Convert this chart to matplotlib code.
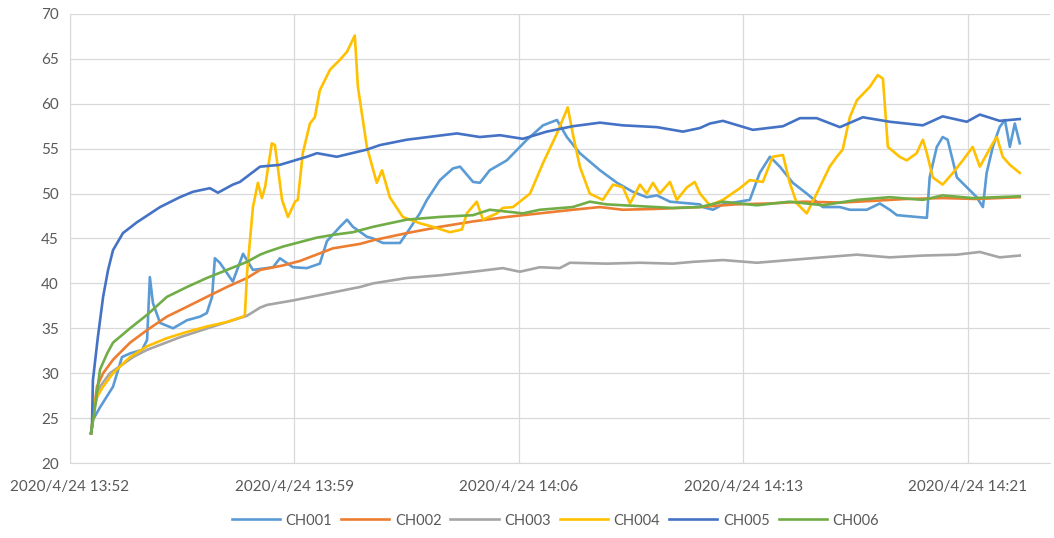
import matplotlib.pyplot as plt

# minutes after 13:52
t_ch001 = [0.68, 0.74, 0.97, 1.39, 1.68, 1.94, 2.33, 2.49, 2.58, 2.68, 2.91, 3.33, 3.78, 4.20, 4.42,
           4.59, 4.68, 4.84, 5.26, 5.59, 5.91, 6.56, 6.78, 7.20, 7.65, 8.07, 8.30, 8.72, 8.95, 9.14,
           9.59, 9.79, 10.11, 10.66, 10.88, 11.30, 11.53, 11.95, 12.37, 12.60, 13.02, 13.24, 13.56,
           14.11, 14.76, 15.28, 15.73, 16.05, 16.47, 17.12, 17.67, 18.18, 18.63, 18.96, 19.38, 20.02,
           20.35, 20.44, 20.77, 21.09, 21.96, 22.28, 22.61, 22.93, 23.35, 23.80, 24.32, 24.87, 25.19,
           25.74, 26.16, 26.48, 26.71, 27.35, 27.68, 27.77, 28.00, 28.19, 28.35, 28.65, 28.97, 29.29,
           29.49, 29.61, 29.81, 30.03, 30.20, 30.36, 30.52, 30.68]
v_ch001 = [23.3, 24.8, 26.2, 28.5, 31.8, 32.2, 32.6, 33.7, 40.7, 37.8, 35.6, 35.0, 35.9, 36.3, 36.7,
           38.5, 42.8, 42.3, 40.2, 43.3, 41.5, 41.8, 42.8, 41.8, 41.7, 42.2, 44.7, 46.3, 47.1, 46.3,
           45.2, 45.0, 44.5, 44.5, 45.6, 47.8, 49.3, 51.5, 52.8, 53.0, 51.3, 51.2, 52.6,
           53.7, 56.0, 57.6, 58.2, 56.3, 54.5, 52.6, 51.2, 50.2, 49.6, 49.8, 49.1, 48.9,
           48.8, 48.5, 48.2, 48.8, 49.3, 52.3, 54.1, 53.0, 51.2, 50.0, 48.5, 48.5, 48.2,
           48.2, 48.9, 48.2, 47.6, 47.4, 47.3, 51.8, 55.2, 56.3, 56.0, 51.8, 50.7, 49.6,
           48.5, 52.3, 55.2, 57.4, 58.2, 55.2, 57.8, 55.6]

t_ch002 = [0.68, 0.87, 1.07, 1.39, 1.94, 2.49, 3.13, 3.78, 4.42, 5.07, 5.72, 6.14, 6.88, 7.43, 8.49,
           9.37, 9.79, 10.88, 11.95, 13.02, 14.11, 15.18, 16.24, 17.12, 17.86, 18.96, 20.35, 21.50,
           22.60, 23.70, 24.90, 26.00, 27.00, 28.20, 29.30, 30.68]
v_ch002 = [23.3, 28.5, 30.0, 31.5, 33.4, 34.8, 36.3, 37.4, 38.5, 39.6, 40.6, 41.5, 42.0, 42.5, 43.9,
           44.4, 44.8, 45.6, 46.3, 46.9, 47.4, 47.8, 48.2, 48.5, 48.2, 48.3, 48.5, 48.8,
           48.9, 49.1, 49.0, 49.2, 49.4, 49.5, 49.4, 49.6]

t_ch003 = [0.68, 0.81, 0.97, 1.29, 2.04, 2.49, 3.55, 4.62, 5.72, 6.14, 6.36, 7.20, 8.07, 9.37, 9.79,
           10.88, 11.95, 13.02, 13.98, 14.53, 15.18, 15.82, 16.15, 17.34, 18.41, 19.47, 20.12, 21.09,
           22.19, 23.25, 24.32, 25.42, 26.48, 27.55, 28.65, 29.39, 30.03, 30.68]
v_ch003 = [23.3, 26.5, 28.5, 30.0, 31.8, 32.6, 34.0, 35.2, 36.4, 37.3, 37.6, 38.1, 38.7, 39.6, 40.0,
           40.6, 40.9, 41.3, 41.7, 41.3, 41.8, 41.7, 42.3, 42.2, 42.3, 42.2, 42.4, 42.6,
           42.3, 42.6, 42.9, 43.2, 42.9, 43.1, 43.2, 43.5, 42.9, 43.1]

t_ch004 = [0.68, 0.81, 1.07, 1.39, 1.94, 2.49, 3.13, 3.78, 4.42, 5.07, 5.59, 5.65, 5.72, 5.91, 6.07,
           6.20, 6.30, 6.52, 6.62, 6.85, 7.04, 7.27, 7.36, 7.52, 7.75, 7.91, 8.07, 8.40, 8.72, 8.95,
           9.20, 9.30, 9.59, 9.91, 10.08, 10.33, 10.75, 11.30, 11.72, 12.27, 12.66, 12.82, 13.14,
           13.34, 13.79, 13.98, 14.31, 14.86, 15.28, 15.73, 16.08, 16.24, 16.47, 16.79, 17.21, 17.54,
           17.86, 18.09, 18.41, 18.63, 18.83, 19.05, 19.38, 19.60, 19.93, 20.18, 20.35, 20.67, 21.09,
           21.64, 21.96, 22.38, 22.70, 23.03, 23.25, 23.48, 23.80, 24.12, 24.54, 24.77, 24.96, 25.19,
           25.42, 25.84, 26.09, 26.26, 26.42, 26.80, 27.03, 27.35, 27.55, 27.68, 27.87, 28.19, 28.52,
           28.84, 29.16, 29.39, 29.81, 29.94, 30.13, 30.36, 30.68]
v_ch004 = [23.3, 27.0, 28.5, 30.0, 31.8, 33.0, 33.9, 34.6, 35.2, 35.7, 36.3, 36.5, 41.2, 48.5, 51.2,
           49.5, 50.7, 55.6, 55.4, 49.3, 47.4, 49.1, 49.3, 54.5, 57.8, 58.5, 61.5, 63.8, 64.9, 65.8,
           67.6, 61.9, 55.2, 51.2, 52.6, 49.6, 47.4, 46.7, 46.3, 45.7, 46.0, 47.8, 49.1,
           47.1, 47.8, 48.4, 48.5, 50.0, 53.4, 56.7, 59.6, 56.7, 53.0, 50.0, 49.3, 51.0,
           50.7, 48.9, 51.0, 50.0, 51.2, 50.0, 51.3, 49.3, 50.7, 51.3, 50.0, 48.7, 49.3,
           50.6, 51.5, 51.3, 54.1, 54.3, 51.2, 48.9, 47.8, 50.0, 53.0, 54.1, 54.9, 58.5,
           60.4, 61.9, 63.2, 62.8, 55.2, 54.1, 53.7, 54.5, 56.0, 54.5, 51.8, 51.0, 52.3,
           53.7, 55.2, 53.0, 55.6, 56.3, 54.1, 53.2, 52.3]

t_ch005 = [0.68, 0.71, 0.74, 0.90, 1.07, 1.23, 1.39, 1.71, 2.16, 2.91, 3.55, 3.97, 4.52, 4.78, 5.26,
           5.49, 6.14, 6.78, 7.65, 7.98, 8.62, 9.59, 10.01, 10.88, 12.50, 13.24, 13.89, 14.63, 15.40,
           16.24, 17.12, 17.86, 18.96, 19.80, 20.35, 20.67, 21.09, 22.06, 23.03, 23.58, 24.12, 24.87,
           25.61, 26.48, 27.55, 28.19, 28.97, 29.39, 30.03, 30.68]
v_ch005 = [23.3, 24.0, 29.2, 34.0, 38.5, 41.5, 43.7, 45.6, 46.8, 48.5, 49.6, 50.2, 50.6, 50.1, 51.0,
           51.3, 53.0, 53.2, 54.1, 54.5, 54.1, 54.9, 55.4, 56.0, 56.7, 56.3, 56.5, 56.1, 56.9,
           57.5, 57.9, 57.6, 57.4, 56.9, 57.3, 57.8, 58.1, 57.1, 57.5, 58.4, 58.4, 57.4,
           58.5, 58.0, 57.6, 58.6, 58.0, 58.8, 58.1, 58.3]

t_ch006 = [0.68, 0.81, 0.97, 1.20, 1.39, 1.94, 2.49, 3.13, 3.78, 4.42, 5.07, 5.72, 6.14, 6.36, 6.88,
           7.43, 7.98, 8.49, 9.14, 9.79, 10.88, 11.95, 13.02, 13.56, 14.63, 15.18, 16.24, 16.79, 17.34,
           18.41, 19.47, 20.35, 21.09, 22.19, 23.25, 24.32, 25.42, 26.48, 27.55, 28.19, 29.16, 30.68]
v_ch006 = [23.3, 26.2, 30.4, 32.2, 33.4, 35.0, 36.5, 38.5, 39.6, 40.6, 41.5, 42.4, 43.2, 43.5, 44.1,
           44.6, 45.1, 45.4, 45.7, 46.3, 47.1, 47.4, 47.6, 48.2, 47.8, 48.2, 48.5, 49.1, 48.8,
           48.6, 48.4, 48.5, 49.1, 48.7, 49.1, 48.7, 49.3, 49.6, 49.3, 49.8, 49.5, 49.7]

tick_pos = [0, 7.25, 14.5, 21.75, 29.0]
tick_labels = ["2020/4/24 13:52", "2020/4/24 13:59", "2020/4/24 14:06",
               "2020/4/24 14:13", "2020/4/24 14:21"]

series = [
    ("CH001", t_ch001, v_ch001, "#5B9BD5"),
    ("CH002", t_ch002, v_ch002, "#ED7D31"),
    ("CH003", t_ch003, v_ch003, "#A5A5A5"),
    ("CH004", t_ch004, v_ch004, "#FFC000"),
    ("CH005", t_ch005, v_ch005, "#4472C4"),
    ("CH006", t_ch006, v_ch006, "#70AD47"),
]

plt.rcParams['font.family'] = ['Lato', 'DejaVu Sans']
text_col = "#595959"

fig = plt.figure(figsize=(10.54, 5.38), dpi=100)
ax = fig.add_axes([0.0664, 0.1394, 0.9296, 0.8346])

for name, t, v, c in series:
    ax.plot(t, v, color=c, lw=1.9, label=name, solid_joinstyle='round')

ax.set_xlim(0, 31.65)
ax.set_ylim(20, 70)
ax.set_yticks(range(20, 71, 5))
ax.set_xticks(tick_pos)
ax.set_xticklabels(tick_labels)
ax.grid(True, color="#D9D9D9", lw=0.9)
ax.set_axisbelow(True)
ax.tick_params(length=0, labelsize=11, colors=text_col, pad=8)
ax.tick_params(axis='x', pad=12)
for side in ['top', 'right']:
    ax.spines[side].set_visible(False)
for side in ['left', 'bottom']:
    ax.spines[side].set_color("#D9D9D9")

fig.legend(loc='lower center', bbox_to_anchor=(0.527, -0.005), ncol=6, frameon=False,
           fontsize=10.5, labelcolor=text_col, handlelength=3.3, columnspacing=0.6,
           handletextpad=0.4)

fig.savefig("out.png", dpi=100, facecolor="white")
